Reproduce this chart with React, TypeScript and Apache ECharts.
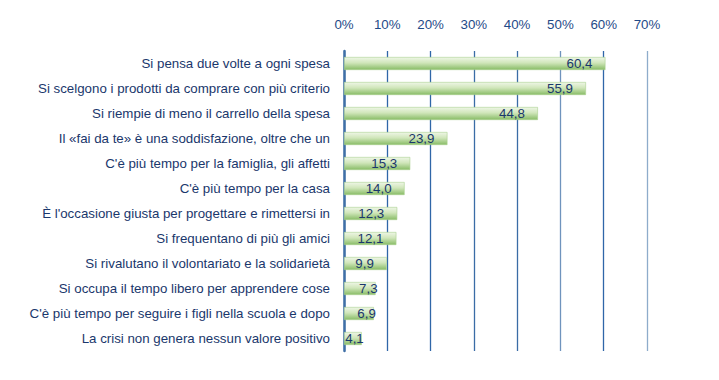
import React, { useEffect, useRef } from "react";
import * as echarts from "echarts";

const categories = [
  "Si pensa due volte a ogni spesa",
  "Si scelgono i prodotti da comprare con più criterio",
  "Si riempie di meno il carrello della spesa",
  "Il «fai da te» è una soddisfazione, oltre che un",
  "C'è più tempo per la famiglia, gli affetti",
  "C'è più tempo per la casa",
  "È l'occasione giusta per progettare e rimettersi in",
  "Si frequentano di più gli amici",
  "Si rivalutano il volontariato e la solidarietà",
  "Si occupa il tempo libero per apprendere cose",
  "C'è più tempo per seguire i figli nella scuola e dopo",
  "La crisi non genera nessun valore positivo",
];

const values = [60.4, 55.9, 44.8, 23.9, 15.3, 14.0, 12.3, 12.1, 9.9, 7.3, 6.9, 4.1];

const axisMin = 0;
const axisMax = 70;
const axisStep = 10;

export default function App() {
  const ref = useRef<HTMLDivElement>(null);

  useEffect(() => {
    if (!ref.current) return;
    const chart = echarts.init(ref.current, null, { renderer: "svg" });
    const textColor = "#1a376c";
    const font = "'Liberation Sans', Arial, Helvetica, sans-serif";
    const barGradient = new echarts.graphic.LinearGradient(0, 0, 0, 1, [
      { offset: 0, color: "#eef6e6" },
      { offset: 0.45, color: "#d0e6ba" },
      { offset: 1, color: "#88bc66" },
    ]);
    const data = values.map((v) => ({
      value: v,
      label: {
        position: "insideRight" as const,
        distance: v < 9 ? -2 : 13,
      },
    }));
    chart.setOption({
      animation: false,
      grid: { left: 344, right: 72, top: 51, bottom: 29, containLabel: false },
      xAxis: {
        type: "value",
        position: "top",
        min: axisMin,
        max: axisMax,
        interval: axisStep,
        axisLine: { show: false },
        axisTick: { show: false },
        axisLabel: {
          formatter: "{value}%",
          color: "#1f4a88",
          fontSize: 13.3,
          fontFamily: font,
          margin: 20,
        },
        splitLine: {
          show: true,
          lineStyle: {
            color: ["#3a6ca6", "#2f66a8", "#2f66a8", "#3a6ca6", "#3a6ca6", "#6f93bd", "#2f66a8", "#8eaccb"],
            width: 1.3,
          },
        },
      },
      yAxis: {
        type: "category",
        inverse: true,
        data: categories,
        axisLine: { show: true, lineStyle: { color: "#3f6fa6", width: 2.5 } },
        axisTick: { show: false },
        axisLabel: {
          color: textColor,
          fontSize: 13.3,
          fontFamily: font,
          margin: 14,
        },
      },
      series: [
        {
          type: "bar",
          data,
          barWidth: 13,
          itemStyle: {
            color: barGradient,
            borderColor: "#a9d08f",
            borderWidth: 0.6,
          },
          label: {
            show: true,
            formatter: (p: any) => p.value.toFixed(1).replace(".", ","),
            color: textColor,
            fontSize: 13.3,
            fontFamily: font,
          },
        },
      ],
    });
    return () => chart.dispose();
  }, []);

  return (
    <div
      ref={ref}
      style={{ position: "fixed", left: 0, top: 0, width: 719, height: 380, background: "#fff" }}
    />
  );
}
